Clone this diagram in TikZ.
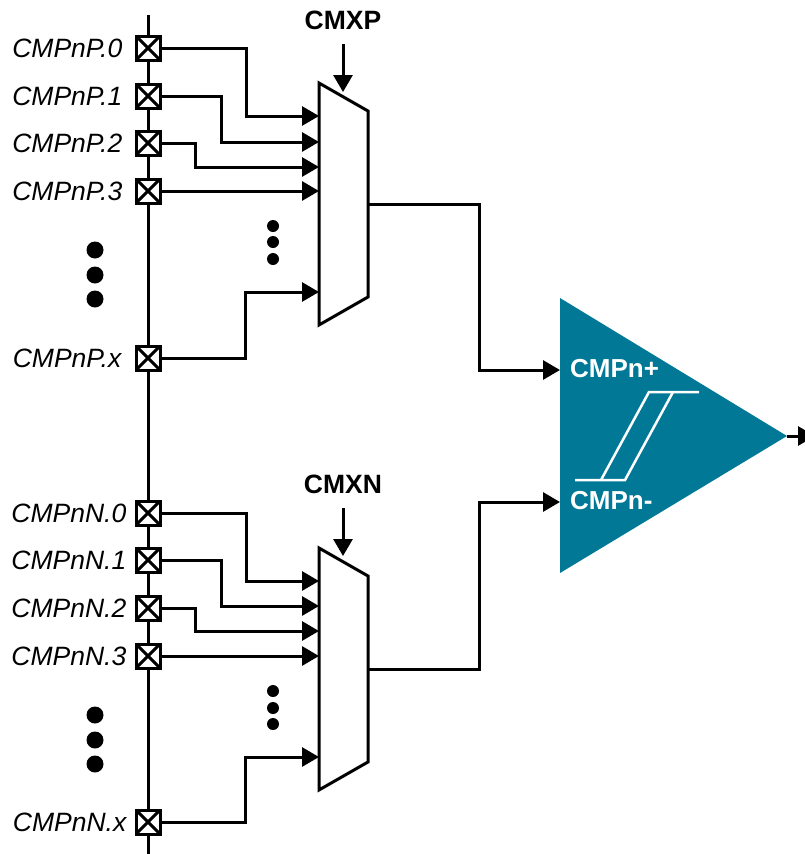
\documentclass[tikz,border=0pt]{standalone}
\usepackage{fontspec}
\setmainfont{Liberation Sans}
\usepackage{xcolor}
\usetikzlibrary{positioning,arrows.meta}
\definecolor{CmpTeal}{HTML}{007896}

\begin{document}
\begin{tikzpicture}[
      x=1pt, y=-1pt,
      every node/.style={align=center, font=\fontsize{26.5}{28}\selectfont},
      wire/.style={line width=3pt, black, line join=miter},
      arrow/.style={wire, -{Triangle[length=17pt, width=19pt]}},
      pad/.style={draw, line width=3pt, fill=white, minimum size=24pt, inner sep=0pt,
        path picture={\draw[line width=3pt] (path picture bounding box.north west) -- (path picture bounding box.south east)
          (path picture bounding box.north east) -- (path picture bounding box.south west);}},
      padlabel/.style={inner sep=0pt, font=\fontsize{26.5}{28}\selectfont\itshape},
      selname/.style={inner sep=0pt, font=\fontsize{26.5}{28}\selectfont\bfseries},
      cmplabel/.style={inner sep=0pt, text=white, font=\fontsize{26}{28}\selectfont\bfseries},
      bigdot/.style={circle, fill=black, minimum size=17pt, inner sep=0pt},
      smalldot/.style={circle, fill=black, minimum size=12pt, inner sep=0pt},
      mux/.style={line width=3pt, fill=white, line join=miter}
    ]
      \useasboundingbox (0,0) rectangle (805,854);
      % Pin rail
      \coordinate (railtop) at (148,15);
      \coordinate (railbot) at (148,854);
      \draw[wire] (railtop) -- (railbot);
      % Positive pins
      \node[pad] (padP0) at (148,48) {};
      \node[pad] (padP1) at (148,96) {};
      \node[pad] (padP2) at (148,143) {};
      \node[pad] (padP3) at (148,191) {};
      \node[pad] (padPx) at (148,358) {};
      \node[padlabel, left=12pt of padP0] (lblP0) {CMPnP.0};
      \node[padlabel, left=12pt of padP1] (lblP1) {CMPnP.1};
      \node[padlabel, left=12pt of padP2] (lblP2) {CMPnP.2};
      \node[padlabel, left=12pt of padP3] (lblP3) {CMPnP.3};
      \node[padlabel, left=13pt of padPx] (lblPx) {CMPnP.x};
      % Negative pins
      \node[pad] (padN0) at (148,513) {};
      \node[pad] (padN1) at (148,560) {};
      \node[pad] (padN2) at (148,608) {};
      \node[pad] (padN3) at (148,656) {};
      \node[pad] (padNx) at (148,822) {};
      \node[padlabel, left=8pt of padN0] (lblN0) {CMPnN.0};
      \node[padlabel, left=8pt of padN1] (lblN1) {CMPnN.1};
      \node[padlabel, left=8pt of padN2] (lblN2) {CMPnN.2};
      \node[padlabel, left=8pt of padN3] (lblN3) {CMPnN.3};
      \node[padlabel, left=8pt of padNx] (lblNx) {CMPnN.x};
      % Muxes
      \draw[mux] (319,83) -- (368,111) -- (368,297) -- (319,325) -- cycle;
      \draw[mux] (319,548) -- (368,576) -- (368,762) -- (319,790) -- cycle;
      \coordinate (inP0) at (319,116);
      \coordinate (inP1) at (319,142);
      \coordinate (inP2) at (319,167);
      \coordinate (inP3) at (319,191);
      \coordinate (inPx) at (319,292);
      \coordinate (inN0) at (319,581);
      \coordinate (inN1) at (319,606);
      \coordinate (inN2) at (319,631);
      \coordinate (inN3) at (319,656);
      \coordinate (inNx) at (319,757);
      \coordinate (outP) at (368,204);
      \coordinate (outN) at (368,669);
      \draw[arrow] (padP0.east) -| ([xshift=-73pt]inP0) -- (inP0);
      \draw[arrow] (padP1.east) -| ([xshift=-98pt]inP1) -- (inP1);
      \draw[arrow] (padP2.east) -| ([xshift=-124pt]inP2) -- (inP2);
      \draw[arrow] (padP3.east) -- (inP3);
      \draw[arrow] (padPx.east) -| ([xshift=-74pt]inPx) -- (inPx);
      \draw[arrow] (padN0.east) -| ([xshift=-73pt]inN0) -- (inN0);
      \draw[arrow] (padN1.east) -| ([xshift=-98pt]inN1) -- (inN1);
      \draw[arrow] (padN2.east) -| ([xshift=-124pt]inN2) -- (inN2);
      \draw[arrow] (padN3.east) -- (inN3);
      \draw[arrow] (padNx.east) -| ([xshift=-74pt]inNx) -- (inNx);
      % Select lines
      \node[selname] (cmxp) at (343,20) {CMXP};
      \node[selname] (cmxn) at (343,484) {CMXN};
      \coordinate (selPtop) at (343,44);
      \coordinate (selPbot) at (343,92);
      \coordinate (selNtop) at (343,508);
      \coordinate (selNbot) at (343,556);
      \draw[arrow] (selPtop) -- (selPbot);
      \draw[arrow] (selNtop) -- (selNbot);
      % Ellipsis dots
      \node[bigdot] (dotP0) at (95,250) {};
      \node[bigdot] (dotP1) at (95,275) {};
      \node[bigdot] (dotP2) at (95,299) {};
      \node[bigdot] (dotN0) at (95,715) {};
      \node[bigdot] (dotN1) at (95,740) {};
      \node[bigdot] (dotN2) at (95,764) {};
      \node[smalldot] (dotA0) at (273,226) {};
      \node[smalldot] (dotA1) at (273,242) {};
      \node[smalldot] (dotA2) at (273,259) {};
      \node[smalldot] (dotB0) at (273,691) {};
      \node[smalldot] (dotB1) at (273,708) {};
      \node[smalldot] (dotB2) at (273,724) {};
      % Comparator
      \fill[CmpTeal] (560,298) -- (787,436) -- (560,573) -- cycle;
      \coordinate (cmpplus) at (560,370);
      \coordinate (cmpminus) at (560,502);
      \coordinate (cmpout) at (787,436);
      \coordinate (cmpend) at (815,436);
      \draw[arrow] (outP) -| ([xshift=-81pt]cmpplus) -- (cmpplus);
      \draw[arrow] (outN) -| ([xshift=-81pt]cmpminus) -- (cmpminus);
      \draw[arrow] (cmpout) -- (cmpend);
      \node[cmplabel, anchor=west] (lblplus) at (570,369) {CMPn+};
      \node[cmplabel, anchor=west] (lblminus) at (570,501) {CMPn-};
      % Hysteresis
      \draw[white, line width=2.5pt] (575,480) -- (625,480) -- (673,392);
      \draw[white, line width=2.5pt] (601,480) -- (649,392) -- (699,392);
    \end{tikzpicture}
\end{document}
